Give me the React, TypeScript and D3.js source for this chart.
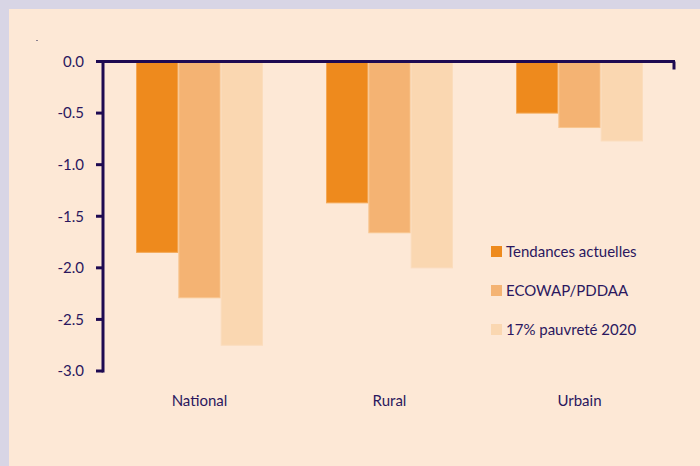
import React from "react";
import * as d3 from "d3";

const categories = ["National", "Rural", "Urbain"];
const seriesNames = ["Tendances actuelles", "ECOWAP/PDDAA", "17% pauvreté 2020"];
const tendances = [-1.85, -1.37, -0.5];
const ecowap = [-2.29, -1.66, -0.64];
const pauvrete = [-2.75, -2.0, -0.77];
const yTicks = [0, -0.5, -1.0, -1.5, -2.0, -2.5, -3.0];

const colors = ["#ee8a1d", "#f4b373", "#fad7b1"];
const strokes = ["#f4a855", "#f8c690", "#fbdcbc"];
const textColor = "#2b175e";
const axisColor = "#1e0a52";
const font = "Lato, 'Open Sans', sans-serif";

export default function App() {
  const W = 700, H = 466;
  const x0 = 103;
  const y = d3.scaleLinear().domain([0, -3]).range([61.5, 371]);
  const xBand = d3.scaleBand<string>().domain(categories).range([104.5, 674.5]).paddingInner(0).paddingOuter(0);
  const inner = d3.scaleBand<number>().domain([0, 1, 2]).range([0, xBand.bandwidth()]).paddingOuter(0.745).paddingInner(0);
  const series = [tendances, ecowap, pauvrete];

  return (
    <svg width={W} height={H} style={{ position: "absolute", left: 0, top: 0 }}>
      <rect x={0} y={0} width={W} height={H} fill="#d8d5e5" />
      <rect x={9} y={9} width={W - 9} height={H - 9} fill="#fde8d6" />
      <rect x={36} y={40} width={2} height={1} fill="#8a8090" />
      {series.map((vals, si) =>
        categories.map((c, ci) => {
          const bx = (xBand(c) as number) + (inner(si) as number);
          const yv = y(vals[ci]);
          return (
            <rect key={`${si}-${ci}`} x={bx + 0.5} y={y(0)} width={inner.bandwidth() - 1} height={yv - y(0)}
              fill={colors[si]} stroke={strokes[si]} strokeWidth={1} />
          );
        })
      )}
      {/* y axis */}
      <line x1={x0} x2={x0} y1={y(0) - 1} y2={y(-3) + 1.5} stroke={axisColor} strokeWidth={3} />
      {yTicks.map((t) => (
        <g key={t}>
          <line x1={x0 - 7} x2={x0} y1={y(t)} y2={y(t)} stroke={axisColor} strokeWidth={3} />
          <text x={84} y={y(t)} dy="0.35em" textAnchor="end" fontFamily={font} fontSize={15} fill={textColor}>
            {t.toFixed(1)}
          </text>
        </g>
      ))}
      {/* zero line */}
      <line x1={x0 - 7} x2={675} y1={y(0)} y2={y(0)} stroke={axisColor} strokeWidth={3} />
      <line x1={674} x2={674} y1={y(0)} y2={y(0) + 8} stroke={axisColor} strokeWidth={3} />
      {categories.map((c) => (
        <text key={c} x={(xBand(c) as number) + xBand.bandwidth() / 2} y={406} textAnchor="middle"
          fontFamily={font} fontSize={15} fill={textColor}>
          {c}
        </text>
      ))}
      {seriesNames.map((s, i) => (
        <g key={s} transform={`translate(491, ${246 + i * 39})`}>
          <rect x={0} y={0} width={11} height={11} fill={colors[i]} />
          <text x={15} y={11} fontFamily={font} fontSize={15} fill={textColor}>{s}</text>
        </g>
      ))}
    </svg>
  );
}
